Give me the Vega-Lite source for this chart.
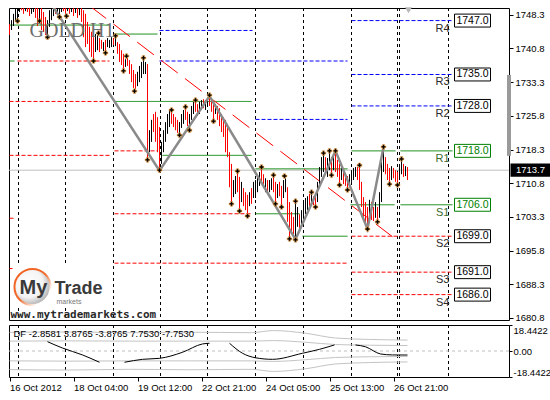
{
"$schema": "https://vega.github.io/schema/vega-lite/v6.json",
"background": "white",
"padding": {"left": 7, "top": 6, "right": 0, "bottom": 0},
"bounds": "flush",
"spacing": 5,
"config": {
  "view": {"stroke": "#000000", "strokeWidth": 1},
  "axis": {"labelFont": "Liberation Sans", "labelFontSize": 9.5, "labelColor": "#000000", "tickColor": "#000000", "domain": false, "grid": false, "labelOverlap": false, "labelBound": false},
  "text": {"font": "Liberation Sans"}
},
"datasets": {
  "grid": [{"i":4.5},{"i":28},{"i":52},{"i":75.5},{"i":99},{"i":123},{"i":147},{"i":171},{"i":194},{"i":195},{"i":219.5}],
  "levels": [
    {"x1":0,"x2":50,"p":1746.0,"k":"g"},
    {"x1":4,"x2":50,"p":1738.0,"k":"r"},
    {"x1":0,"x2":50,"p":1729.0,"k":"r"},
    {"x1":0,"x2":50,"p":1717.0,"k":"r"},
    {"x1":0,"x2":2.5,"p":1738.0,"k":"g"},
    {"x1":0,"x2":2.5,"p":1703.0,"k":"r"},
    {"x1":0,"x2":2.5,"p":1691.8,"k":"r"},
    {"x1":52.5,"x2":74,"p":1744.0,"k":"g"},
    {"x1":52.5,"x2":74,"p":1718.0,"k":"r"},
    {"x1":75,"x2":121.5,"p":1744.8,"k":"b"},
    {"x1":75,"x2":169,"p":1738.0,"k":"b"},
    {"x1":52.5,"x2":121,"p":1729.0,"k":"g"},
    {"x1":76.5,"x2":121,"p":1717.0,"k":"g"},
    {"x1":52.5,"x2":121,"p":1704.0,"k":"r"},
    {"x1":52.5,"x2":169,"p":1693.0,"k":"r"},
    {"x1":123,"x2":169,"p":1725.0,"k":"b"},
    {"x1":123,"x2":169,"p":1714.0,"k":"g"},
    {"x1":123,"x2":145,"p":1704.0,"k":"g"},
    {"x1":146.5,"x2":169,"p":1699.0,"k":"g"},
    {"x1":171,"x2":221.5,"p":1747.0,"k":"b"},
    {"x1":171,"x2":221.5,"p":1735.0,"k":"b"},
    {"x1":171,"x2":221.5,"p":1728.0,"k":"b"},
    {"x1":171,"x2":193,"p":1718.0,"k":"g"},
    {"x1":195.5,"x2":221.5,"p":1718.0,"k":"g"},
    {"x1":170.5,"x2":192.5,"p":1706.0,"k":"g"},
    {"x1":195.5,"x2":221.5,"p":1706.0,"k":"g"},
    {"x1":171,"x2":221.5,"p":1699.0,"k":"r"},
    {"x1":171,"x2":221.5,"p":1691.0,"k":"r"},
    {"x1":171,"x2":221.5,"p":1686.0,"k":"r"}
  ],
  "rs": [
    {"name":"R4","p":1747.0,"col":"k"},
    {"name":"R3","p":1735.0,"col":"k"},
    {"name":"R2","p":1728.0,"col":"k"},
    {"name":"R1","p":1718.0,"col":"g"},
    {"name":"S1","p":1706.0,"col":"g"},
    {"name":"S2","p":1699.0,"col":"k"},
    {"name":"S3","p":1691.0,"col":"k"},
    {"name":"S4","p":1686.0,"col":"k"}
  ],
  "trend": [{"i":40,"p":1750.3},{"i":195,"p":1697.7}],
  "zigzag": [{"i":20,"p":1751.3},{"i":75,"p":1713.6},{"i":100,"p":1730.2},{"i":143,"p":1698.3},{"i":163,"p":1718.0},{"i":179,"p":1700.6},{"i":187,"p":1718.8}],
  "fractals": [
    {"i":4,"p":1746.9},{"i":15,"p":1746.9},{"i":19,"p":1743.3},{"i":25,"p":1747.8},{"i":28.5,"p":1748.0},
    {"i":42,"p":1738.0},{"i":44.5,"p":1744.2},{"i":48,"p":1739.8},{"i":53,"p":1743.6},{"i":57,"p":1735.8},
    {"i":58.5,"p":1739.1},{"i":62.5,"p":1731.3},{"i":67,"p":1738.7},{"i":69,"p":1716.0},{"i":75,"p":1713.7},
    {"i":81,"p":1727.1},{"i":85,"p":1721.5},{"i":88,"p":1727.8},{"i":90,"p":1722.6},{"i":93,"p":1729.3},
    {"i":100,"p":1730.4},{"i":102,"p":1724.6},{"i":111,"p":1706.2},{"i":114,"p":1713.5},{"i":115,"p":1704.6},
    {"i":119,"p":1703.5},{"i":126,"p":1714.4},{"i":132,"p":1712.6},{"i":133,"p":1706.2},{"i":136,"p":1705.5},
    {"i":137.5,"p":1712.4},{"i":140,"p":1698.4},{"i":143,"p":1706.8},{"i":143,"p":1698.2},{"i":151,"p":1708.8},
    {"i":153,"p":1705.5},{"i":157,"p":1717.5},{"i":160,"p":1718.0},{"i":161,"p":1712.6},{"i":163,"p":1718.0},
    {"i":165,"p":1710.4},{"i":169,"p":1709.3},{"i":175,"p":1714.8},{"i":179,"p":1700.6},{"i":184,"p":1702.2},
    {"i":187,"p":1718.9},{"i":190,"p":1710.6},{"i":194,"p":1710.4},{"i":196,"p":1716.2}
  ],
  "bars": [
    {"i":0,"o":1746.2,"h":1746.2,"l":1743.8,"c":1743.8},
    {"i":1,"o":1744.9,"h":1747.1,"l":1744.9,"c":1747.1},
    {"i":2,"o":1745.8,"h":1748.5,"l":1745.8,"c":1748.5},
    {"i":3,"o":1746.9,"h":1750.7,"l":1746.9,"c":1750.7},
    {"i":4,"o":1747.3,"h":1750.7,"l":1747.3,"c":1750.7},
    {"i":5,"o":1748.9,"h":1751.1,"l":1748.9,"c":1751.1},
    {"i":6,"o":1751.1,"h":1751.1,"l":1749.3,"c":1749.3},
    {"i":7,"o":1751.1,"h":1751.1,"l":1748.5,"c":1748.5},
    {"i":8,"o":1749.1,"h":1751.1,"l":1749.1,"c":1751.1},
    {"i":9,"o":1751.1,"h":1751.1,"l":1748.9,"c":1748.9},
    {"i":10,"o":1751.1,"h":1751.1,"l":1748.0,"c":1748.0},
    {"i":11,"o":1748.5,"h":1751.1,"l":1748.5,"c":1751.1},
    {"i":12,"o":1748.9,"h":1751.1,"l":1748.9,"c":1751.1},
    {"i":13,"o":1751.1,"h":1751.1,"l":1747.6,"c":1747.6},
    {"i":14,"o":1751.1,"h":1751.1,"l":1745.8,"c":1745.8},
    {"i":15,"o":1747.3,"h":1750.7,"l":1747.3,"c":1750.7},
    {"i":16,"o":1750.2,"h":1750.2,"l":1744.9,"c":1744.9},
    {"i":17,"o":1748.9,"h":1748.9,"l":1744.5,"c":1744.5},
    {"i":18,"o":1747.8,"h":1747.8,"l":1743.8,"c":1743.8},
    {"i":19,"o":1743.8,"h":1747.1,"l":1743.8,"c":1747.1},
    {"i":20,"o":1745.6,"h":1749.3,"l":1745.6,"c":1749.3},
    {"i":21,"o":1747.1,"h":1750.7,"l":1747.1,"c":1750.7},
    {"i":22,"o":1748.0,"h":1751.1,"l":1748.0,"c":1751.1},
    {"i":23,"o":1751.1,"h":1751.1,"l":1748.5,"c":1748.5},
    {"i":24,"o":1748.2,"h":1751.1,"l":1748.2,"c":1751.1},
    {"i":25,"o":1748.2,"h":1750.7,"l":1748.2,"c":1750.7},
    {"i":26,"o":1748.9,"h":1751.1,"l":1748.9,"c":1751.1},
    {"i":27,"o":1751.1,"h":1751.1,"l":1749.1,"c":1749.1},
    {"i":28,"o":1751.1,"h":1751.1,"l":1748.5,"c":1748.5},
    {"i":29,"o":1749.1,"h":1751.1,"l":1749.1,"c":1751.1},
    {"i":30,"o":1751.1,"h":1751.1,"l":1748.5,"c":1748.5},
    {"i":31,"o":1748.9,"h":1751.1,"l":1748.9,"c":1751.1},
    {"i":32,"o":1751.1,"h":1751.1,"l":1748.0,"c":1748.0},
    {"i":33,"o":1748.7,"h":1751.1,"l":1748.7,"c":1751.1},
    {"i":34,"o":1750.7,"h":1750.7,"l":1747.6,"c":1747.6},
    {"i":35,"o":1748.2,"h":1750.2,"l":1748.2,"c":1750.2},
    {"i":36,"o":1749.8,"h":1749.8,"l":1746.7,"c":1746.7},
    {"i":37,"o":1749.3,"h":1749.3,"l":1743.3,"c":1743.3},
    {"i":38,"o":1748.5,"h":1748.5,"l":1741.1,"c":1741.1},
    {"i":39,"o":1746.7,"h":1746.7,"l":1741.8,"c":1741.8},
    {"i":40,"o":1745.6,"h":1745.6,"l":1740.0,"c":1740.0},
    {"i":41,"o":1744.5,"h":1744.5,"l":1738.9,"c":1738.9},
    {"i":42,"o":1743.3,"h":1743.3,"l":1738.4,"c":1738.4},
    {"i":43,"o":1740.0,"h":1744.0,"l":1740.0,"c":1744.0},
    {"i":44,"o":1740.4,"h":1743.8,"l":1740.4,"c":1743.8},
    {"i":45,"o":1743.1,"h":1743.1,"l":1740.0,"c":1740.0},
    {"i":46,"o":1742.7,"h":1742.7,"l":1740.7,"c":1740.7},
    {"i":47,"o":1740.2,"h":1742.2,"l":1740.2,"c":1742.2},
    {"i":48,"o":1742.7,"h":1742.7,"l":1740.2,"c":1740.2},
    {"i":49,"o":1741.1,"h":1743.1,"l":1741.1,"c":1743.1},
    {"i":50,"o":1740.9,"h":1742.7,"l":1740.9,"c":1742.7},
    {"i":51,"o":1741.1,"h":1743.3,"l":1741.1,"c":1743.3},
    {"i":52,"o":1743.1,"h":1743.1,"l":1741.6,"c":1741.6},
    {"i":53,"o":1741.3,"h":1743.1,"l":1741.3,"c":1743.1},
    {"i":54,"o":1742.2,"h":1742.2,"l":1739.6,"c":1739.6},
    {"i":55,"o":1741.8,"h":1741.8,"l":1737.8,"c":1737.8},
    {"i":56,"o":1740.4,"h":1740.4,"l":1737.1,"c":1737.1},
    {"i":57,"o":1739.6,"h":1739.6,"l":1736.2,"c":1736.2},
    {"i":58,"o":1736.7,"h":1738.4,"l":1736.7,"c":1738.4},
    {"i":59,"o":1738.7,"h":1738.7,"l":1736.9,"c":1736.9},
    {"i":60,"o":1738.2,"h":1738.2,"l":1735.1,"c":1735.1},
    {"i":61,"o":1737.3,"h":1737.3,"l":1733.3,"c":1733.3},
    {"i":62,"o":1736.0,"h":1736.0,"l":1732.0,"c":1732.0},
    {"i":63,"o":1735.1,"h":1735.1,"l":1731.8,"c":1731.8},
    {"i":64,"o":1732.4,"h":1735.6,"l":1732.4,"c":1735.6},
    {"i":65,"o":1733.3,"h":1736.9,"l":1733.3,"c":1736.9},
    {"i":66,"o":1734.2,"h":1737.8,"l":1734.2,"c":1737.8},
    {"i":67,"o":1735.1,"h":1738.2,"l":1735.1,"c":1738.2},
    {"i":68,"o":1735.1,"h":1737.8,"l":1735.1,"c":1737.8},
    {"i":69,"o":1737.3,"h":1737.3,"l":1716.4,"c":1716.4},
    {"i":70,"o":1717.7,"h":1722.6,"l":1717.7,"c":1722.6},
    {"i":71,"o":1720.0,"h":1724.9,"l":1720.0,"c":1724.9},
    {"i":72,"o":1726.2,"h":1726.2,"l":1722.2,"c":1722.2},
    {"i":73,"o":1726.7,"h":1726.7,"l":1720.0,"c":1720.0},
    {"i":74,"o":1725.5,"h":1725.5,"l":1717.7,"c":1717.7},
    {"i":75,"o":1723.3,"h":1723.3,"l":1714.2,"c":1714.2},
    {"i":76,"o":1715.1,"h":1720.0,"l":1715.1,"c":1720.0},
    {"i":77,"o":1717.7,"h":1722.6,"l":1717.7,"c":1722.6},
    {"i":78,"o":1720.0,"h":1724.4,"l":1720.0,"c":1724.4},
    {"i":79,"o":1721.8,"h":1726.2,"l":1721.8,"c":1726.2},
    {"i":80,"o":1723.3,"h":1727.1,"l":1723.3,"c":1727.1},
    {"i":81,"o":1726.7,"h":1726.7,"l":1724.0,"c":1724.0},
    {"i":82,"o":1726.2,"h":1726.2,"l":1723.3,"c":1723.3},
    {"i":83,"o":1725.5,"h":1725.5,"l":1722.6,"c":1722.6},
    {"i":84,"o":1724.9,"h":1724.9,"l":1722.0,"c":1722.0},
    {"i":85,"o":1722.0,"h":1724.4,"l":1722.0,"c":1724.4},
    {"i":86,"o":1723.1,"h":1726.2,"l":1723.1,"c":1726.2},
    {"i":87,"o":1724.0,"h":1727.1,"l":1724.0,"c":1727.1},
    {"i":88,"o":1727.3,"h":1727.3,"l":1724.9,"c":1724.9},
    {"i":89,"o":1726.7,"h":1726.7,"l":1723.5,"c":1723.5},
    {"i":90,"o":1723.1,"h":1726.2,"l":1723.1,"c":1726.2},
    {"i":91,"o":1724.9,"h":1728.0,"l":1724.9,"c":1728.0},
    {"i":92,"o":1726.2,"h":1728.9,"l":1726.2,"c":1728.9},
    {"i":93,"o":1728.9,"h":1728.9,"l":1726.7,"c":1726.7},
    {"i":94,"o":1728.4,"h":1728.4,"l":1725.8,"c":1725.8},
    {"i":95,"o":1726.2,"h":1728.9,"l":1726.2,"c":1728.9},
    {"i":96,"o":1727.1,"h":1729.3,"l":1727.1,"c":1729.3},
    {"i":97,"o":1729.5,"h":1729.5,"l":1727.5,"c":1727.5},
    {"i":98,"o":1727.1,"h":1729.3,"l":1727.1,"c":1729.3},
    {"i":99,"o":1728.0,"h":1729.8,"l":1728.0,"c":1729.8},
    {"i":100,"o":1730.0,"h":1730.0,"l":1728.0,"c":1728.0},
    {"i":101,"o":1729.5,"h":1729.5,"l":1726.7,"c":1726.7},
    {"i":102,"o":1728.9,"h":1728.9,"l":1725.1,"c":1725.1},
    {"i":103,"o":1726.2,"h":1728.4,"l":1726.2,"c":1728.4},
    {"i":104,"o":1728.0,"h":1728.0,"l":1724.9,"c":1724.9},
    {"i":105,"o":1727.5,"h":1727.5,"l":1723.5,"c":1723.5},
    {"i":106,"o":1726.2,"h":1726.2,"l":1722.2,"c":1722.2},
    {"i":107,"o":1725.5,"h":1725.5,"l":1721.1,"c":1721.1},
    {"i":108,"o":1724.9,"h":1724.9,"l":1717.7,"c":1717.7},
    {"i":109,"o":1724.0,"h":1724.0,"l":1716.6,"c":1716.6},
    {"i":110,"o":1717.7,"h":1717.7,"l":1709.9,"c":1709.9},
    {"i":111,"o":1715.1,"h":1715.1,"l":1706.6,"c":1706.6},
    {"i":112,"o":1707.7,"h":1711.5,"l":1707.7,"c":1711.5},
    {"i":113,"o":1708.4,"h":1712.4,"l":1708.4,"c":1712.4},
    {"i":114,"o":1713.1,"h":1713.1,"l":1708.8,"c":1708.8},
    {"i":115,"o":1712.2,"h":1712.2,"l":1705.1,"c":1705.1},
    {"i":116,"o":1706.6,"h":1711.1,"l":1706.6,"c":1711.1},
    {"i":117,"o":1709.7,"h":1709.7,"l":1705.7,"c":1705.7},
    {"i":118,"o":1708.8,"h":1708.8,"l":1704.8,"c":1704.8},
    {"i":119,"o":1708.2,"h":1708.2,"l":1703.9,"c":1703.9},
    {"i":120,"o":1705.7,"h":1708.8,"l":1705.7,"c":1708.8},
    {"i":121,"o":1709.7,"h":1709.7,"l":1706.2,"c":1706.2},
    {"i":122,"o":1707.5,"h":1711.1,"l":1707.5,"c":1711.1},
    {"i":123,"o":1707.5,"h":1711.5,"l":1707.5,"c":1711.5},
    {"i":124,"o":1708.8,"h":1712.4,"l":1708.8,"c":1712.4},
    {"i":125,"o":1710.2,"h":1713.3,"l":1710.2,"c":1713.3},
    {"i":126,"o":1714.0,"h":1714.0,"l":1711.1,"c":1711.1},
    {"i":127,"o":1712.8,"h":1712.8,"l":1709.7,"c":1709.7},
    {"i":128,"o":1708.8,"h":1711.9,"l":1708.8,"c":1711.9},
    {"i":129,"o":1711.5,"h":1711.5,"l":1708.4,"c":1708.4},
    {"i":130,"o":1708.8,"h":1711.5,"l":1708.8,"c":1711.5},
    {"i":131,"o":1709.3,"h":1711.9,"l":1709.3,"c":1711.9},
    {"i":132,"o":1712.2,"h":1712.2,"l":1708.8,"c":1708.8},
    {"i":133,"o":1711.1,"h":1711.1,"l":1706.6,"c":1706.6},
    {"i":134,"o":1707.5,"h":1710.6,"l":1707.5,"c":1710.6},
    {"i":135,"o":1711.1,"h":1711.1,"l":1707.9,"c":1707.9},
    {"i":136,"o":1710.2,"h":1710.2,"l":1705.9,"c":1705.9},
    {"i":137,"o":1707.5,"h":1711.5,"l":1707.5,"c":1711.5},
    {"i":138,"o":1708.8,"h":1711.9,"l":1708.8,"c":1711.9},
    {"i":139,"o":1709.9,"h":1709.9,"l":1702.2,"c":1702.2},
    {"i":140,"o":1706.6,"h":1706.6,"l":1698.8,"c":1698.8},
    {"i":141,"o":1704.4,"h":1704.4,"l":1699.9,"c":1699.9},
    {"i":142,"o":1703.3,"h":1703.3,"l":1699.3,"c":1699.3},
    {"i":143,"o":1698.6,"h":1706.4,"l":1698.6,"c":1706.4},
    {"i":144,"o":1701.1,"h":1705.5,"l":1701.1,"c":1705.5},
    {"i":145,"o":1703.9,"h":1703.9,"l":1700.8,"c":1700.8},
    {"i":146,"o":1701.7,"h":1704.8,"l":1701.7,"c":1704.8},
    {"i":147,"o":1702.6,"h":1706.6,"l":1702.6,"c":1706.6},
    {"i":148,"o":1703.9,"h":1707.5,"l":1703.9,"c":1707.5},
    {"i":149,"o":1704.8,"h":1707.9,"l":1704.8,"c":1707.9},
    {"i":150,"o":1708.4,"h":1708.4,"l":1705.5,"c":1705.5},
    {"i":151,"o":1706.2,"h":1708.6,"l":1706.2,"c":1708.6},
    {"i":152,"o":1707.9,"h":1707.9,"l":1705.9,"c":1705.9},
    {"i":153,"o":1707.9,"h":1707.9,"l":1705.9,"c":1705.9},
    {"i":154,"o":1706.6,"h":1711.1,"l":1706.6,"c":1711.1},
    {"i":155,"o":1709.9,"h":1714.4,"l":1709.9,"c":1714.4},
    {"i":156,"o":1712.2,"h":1716.6,"l":1712.2,"c":1716.6},
    {"i":157,"o":1713.3,"h":1717.1,"l":1713.3,"c":1717.1},
    {"i":158,"o":1716.6,"h":1716.6,"l":1712.8,"c":1712.8},
    {"i":159,"o":1712.2,"h":1716.4,"l":1712.2,"c":1716.4},
    {"i":160,"o":1713.7,"h":1717.5,"l":1713.7,"c":1717.5},
    {"i":161,"o":1716.6,"h":1716.6,"l":1713.1,"c":1713.1},
    {"i":162,"o":1713.7,"h":1716.9,"l":1713.7,"c":1716.9},
    {"i":163,"o":1717.5,"h":1717.5,"l":1713.3,"c":1713.3},
    {"i":164,"o":1716.0,"h":1716.0,"l":1712.2,"c":1712.2},
    {"i":165,"o":1715.1,"h":1715.1,"l":1710.8,"c":1710.8},
    {"i":166,"o":1711.5,"h":1714.4,"l":1711.5,"c":1714.4},
    {"i":167,"o":1713.7,"h":1713.7,"l":1710.6,"c":1710.6},
    {"i":168,"o":1712.8,"h":1712.8,"l":1710.2,"c":1710.2},
    {"i":169,"o":1712.4,"h":1712.4,"l":1709.7,"c":1709.7},
    {"i":170,"o":1710.2,"h":1712.8,"l":1710.2,"c":1712.8},
    {"i":171,"o":1711.1,"h":1713.7,"l":1711.1,"c":1713.7},
    {"i":172,"o":1711.5,"h":1714.2,"l":1711.5,"c":1714.2},
    {"i":173,"o":1712.2,"h":1714.4,"l":1712.2,"c":1714.4},
    {"i":174,"o":1714.4,"h":1714.4,"l":1711.5,"c":1711.5},
    {"i":175,"o":1714.4,"h":1714.4,"l":1709.3,"c":1709.3},
    {"i":176,"o":1711.1,"h":1711.1,"l":1705.5,"c":1705.5},
    {"i":177,"o":1707.7,"h":1707.7,"l":1703.3,"c":1703.3},
    {"i":178,"o":1706.6,"h":1706.6,"l":1701.7,"c":1701.7},
    {"i":179,"o":1705.5,"h":1705.5,"l":1701.1,"c":1701.1},
    {"i":180,"o":1703.3,"h":1707.1,"l":1703.3,"c":1707.1},
    {"i":181,"o":1706.6,"h":1706.6,"l":1702.6,"c":1702.6},
    {"i":182,"o":1705.5,"h":1705.5,"l":1702.4,"c":1702.4},
    {"i":183,"o":1703.1,"h":1706.6,"l":1703.1,"c":1706.6},
    {"i":184,"o":1705.5,"h":1705.5,"l":1702.6,"c":1702.6},
    {"i":185,"o":1703.1,"h":1708.8,"l":1703.1,"c":1708.8},
    {"i":186,"o":1706.6,"h":1715.5,"l":1706.6,"c":1715.5},
    {"i":187,"o":1713.3,"h":1718.4,"l":1713.3,"c":1718.4},
    {"i":188,"o":1716.6,"h":1716.6,"l":1712.8,"c":1712.8},
    {"i":189,"o":1715.1,"h":1715.1,"l":1711.5,"c":1711.5},
    {"i":190,"o":1714.2,"h":1714.2,"l":1711.1,"c":1711.1},
    {"i":191,"o":1711.5,"h":1714.6,"l":1711.5,"c":1714.6},
    {"i":192,"o":1714.2,"h":1714.2,"l":1711.9,"c":1711.9},
    {"i":193,"o":1713.7,"h":1713.7,"l":1711.1,"c":1711.1},
    {"i":194,"o":1713.3,"h":1713.3,"l":1710.8,"c":1710.8},
    {"i":195,"o":1711.5,"h":1714.4,"l":1711.5,"c":1714.4},
    {"i":196,"o":1712.8,"h":1715.7,"l":1712.8,"c":1715.7},
    {"i":197,"o":1715.1,"h":1715.1,"l":1712.2,"c":1712.2},
    {"i":198,"o":1712.4,"h":1714.6,"l":1712.4,"c":1714.6},
    {"i":199,"o":1714.4,"h":1714.4,"l":1711.5,"c":1713.7}
  ],
  "df": [
    {"i":19,"v":6.6,"s":1},{"i":26.5,"v":2.1,"s":1},{"i":36.5,"v":-2.8,"s":1},{"i":45,"v":-8.0,"s":1},
    {"i":57.5,"v":-8.0,"s":2},{"i":66.5,"v":-5.9,"s":2},{"i":75,"v":-5.2,"s":2},{"i":86.5,"v":-0.9,"s":2},{"i":96.5,"v":5.0,"s":2},{"i":100,"v":5.5,"s":2},
    {"i":110,"v":5.5,"s":3},{"i":116.5,"v":-1.6,"s":3},{"i":123,"v":-4.8,"s":3},{"i":131.5,"v":-5.9,"s":3},{"i":146.5,"v":-1.6,"s":3},{"i":155,"v":1.2,"s":3},{"i":162.5,"v":4.3,"s":3},
    {"i":173,"v":4.3,"s":4},{"i":178,"v":3.0,"s":4},{"i":185.5,"v":-2.1,"s":4},{"i":191.5,"v":-2.8,"s":4},{"i":199,"v":-2.8581,"s":4}
  ],
  "bands": [
    {"i":0,"b":"u2","v":13.2},{"i":0,"b":"u1","v":7.0},{"i":0,"b":"d1","v":-7.0},{"i":0,"b":"d2","v":-13.2},
    {"i":30,"b":"u2","v":13.5},{"i":30,"b":"u1","v":7.2},{"i":30,"b":"d1","v":-7.2},{"i":30,"b":"d2","v":-13.5},
    {"i":60,"b":"u2","v":13.0},{"i":60,"b":"u1","v":7.0},{"i":60,"b":"d1","v":-7.0},{"i":60,"b":"d2","v":-13.0},
    {"i":90,"b":"u2","v":13.3},{"i":90,"b":"u1","v":7.0},{"i":90,"b":"d1","v":-7.0},{"i":90,"b":"d2","v":-13.3},
    {"i":121,"b":"u2","v":13.0},{"i":121,"b":"u1","v":7.0},{"i":121,"b":"d1","v":-7.0},{"i":121,"b":"d2","v":-13.0},
    {"i":132,"b":"u2","v":14.5},{"i":132,"b":"u1","v":7.4},{"i":132,"b":"d1","v":-7.4},{"i":132,"b":"d2","v":-14.5},
    {"i":148,"b":"u2","v":12.6},{"i":148,"b":"u1","v":6.2},{"i":148,"b":"d1","v":-6.2},{"i":148,"b":"d2","v":-12.6},
    {"i":163,"b":"u2","v":9.2},{"i":163,"b":"u1","v":4.6},{"i":163,"b":"d1","v":-4.6},{"i":163,"b":"d2","v":-9.2},
    {"i":180,"b":"u2","v":8.2},{"i":180,"b":"u1","v":4.1},{"i":180,"b":"d1","v":-4.1},{"i":180,"b":"d2","v":-8.2},
    {"i":199,"b":"u2","v":7.753},{"i":199,"b":"u1","v":3.8765},{"i":199,"b":"d1","v":-3.8765},{"i":199,"b":"d2","v":-7.753}
  ]
},
"vconcat": [
  {
    "width": 500,
    "height": 312,
    "resolve": {"scale": {"color": "independent", "stroke": "independent", "strokeDash": "independent"}},
    "layer": [
      {"data": {"name": "grid"}, "mark": {"type": "rule", "color": "#000000", "strokeDash": [3, 3], "strokeWidth": 1},
       "encoding": {"x": {"field": "i", "type": "quantitative", "scale": {"domain": [-0.25, 249.75], "nice": false, "zero": false}, "axis": null}}},
      {"data": {"values": [{"p": 1713.7}]}, "mark": {"type": "rule", "color": "#c0c0c0", "strokeWidth": 1},
       "encoding": {"y": {"field": "p", "type": "quantitative", "scale": {"domain": [1680.35, 1749.8], "nice": false, "zero": false}, "title": null,
               "axis": {"orient": "right", "values": [1680.8, 1688.3, 1695.8, 1703.3, 1710.8, 1718.3, 1725.8, 1733.3, 1740.8, 1748.3], "tickCount": 40, "format": ".1f", "tickSize": 4, "labelPadding": 2, "labelOverlap": false, "labelFlush": false, "labelSeparation": 0, "title": null}}}},
      {"data": {"name": "levels"}, "mark": {"type": "rule", "strokeWidth": 1},
       "encoding": {
         "x": {"field": "x1", "type": "quantitative", "scale": {"domain": [-0.25, 249.75], "nice": false, "zero": false}, "axis": null},
         "x2": {"field": "x2"},
         "y": {"field": "p", "type": "quantitative", "scale": {"domain": [1680.35, 1749.8], "nice": false, "zero": false}, "title": null},
         "color": {"field": "k", "type": "nominal", "scale": {"domain": ["g", "r", "b"], "range": ["#008000", "#ff0000", "#0000ff"]}, "legend": null},
         "strokeDash": {"field": "k", "type": "nominal", "scale": {"domain": ["g", "r", "b"], "range": [[1, 0], [4, 2], [4, 2]]}, "legend": null}}},
      {"data": {"values": [{}]}, "mark": {"type": "rect", "fill": "#ffffff"},
       "encoding": {
         "x": {"datum": 1.5, "type": "quantitative", "scale": {"domain": [-0.25, 249.75], "nice": false, "zero": false}, "axis": null},
         "x2": {"datum": 47.5},
         "y": {"datum": 1692.4, "type": "quantitative", "scale": {"domain": [1680.35, 1749.8], "nice": false, "zero": false}, "title": null},
         "y2": {"datum": 1683.5}}},
      {"data": {"name": "trend"}, "mark": {"type": "line", "color": "#ff0000", "strokeWidth": 1, "strokeDash": [21, 9], "clip": true},
       "encoding": {
         "x": {"field": "i", "type": "quantitative", "scale": {"domain": [-0.25, 249.75], "nice": false, "zero": false}, "axis": null},
         "y": {"field": "p", "type": "quantitative", "scale": {"domain": [1680.35, 1749.8], "nice": false, "zero": false}, "title": null}}},
      {"data": {"name": "bars"}, "mark": {"type": "rule", "strokeWidth": 1, "clip": true},
       "encoding": {
         "x": {"field": "i", "type": "quantitative", "scale": {"domain": [-0.25, 249.75], "nice": false, "zero": false}, "axis": null},
         "y": {"field": "l", "type": "quantitative", "scale": {"domain": [1680.35, 1749.8], "nice": false, "zero": false}, "title": null},
         "y2": {"field": "h"},
         "color": {"condition": {"test": "datum.c < datum.o", "value": "#ff0000"}, "value": "#000000"}}},
      {"data": {"name": "zigzag"}, "mark": {"type": "line", "color": "#8a8a8a", "strokeWidth": 2.5, "clip": true},
       "encoding": {
         "x": {"field": "i", "type": "quantitative", "scale": {"domain": [-0.25, 249.75], "nice": false, "zero": false}, "axis": null},
         "y": {"field": "p", "type": "quantitative", "scale": {"domain": [1680.35, 1749.8], "nice": false, "zero": false}, "title": null}}},
      {"data": {"name": "fractals"}, "mark": {"type": "point", "shape": "cross", "size": 22, "filled": true, "fill": "#000000", "stroke": "#f0a040", "strokeWidth": 0.6, "opacity": 1},
       "encoding": {
         "x": {"field": "i", "type": "quantitative", "scale": {"domain": [-0.25, 249.75], "nice": false, "zero": false}, "axis": null},
         "y": {"field": "p", "type": "quantitative", "scale": {"domain": [1680.35, 1749.8], "nice": false, "zero": false}, "title": null}}},
      {"data": {"values": [{}]}, "mark": {"type": "point", "shape": "circle", "size": 1300, "opacity": 1, "strokeWidth": 2,
         "fill": {"gradient": "radial", "x1": 0.4, "y1": 0.4, "r1": 0, "x2": 0.4, "y2": 0.4, "r2": 0.65, "stops": [{"offset": 0, "color": "#ffffff"}, {"offset": 0.6, "color": "#f4f4f4"}, {"offset": 1, "color": "#a8a8a8"}]},
         "stroke": {"gradient": "linear", "x1": 0, "y1": 0, "x2": 1, "y2": 1, "stops": [{"offset": 0, "color": "#f06020"}, {"offset": 0.5, "color": "#f26a2a"}, {"offset": 0.8, "color": "#ffffff"}]}},
       "encoding": {
         "x": {"datum": 11.5, "type": "quantitative", "scale": {"domain": [-0.25, 249.75], "nice": false, "zero": false}, "axis": null},
         "y": {"datum": 1687.7, "type": "quantitative", "scale": {"domain": [1680.35, 1749.8], "nice": false, "zero": false}, "title": null}}},
      {"data": {"values": [{"t": "My"}]}, "mark": {"type": "text", "align": "left", "baseline": "alphabetic", "fontSize": 20, "fontWeight": "bold", "color": "#3a3a3a", "font": "Liberation Sans"},
       "encoding": {
         "x": {"datum": 5, "type": "quantitative", "scale": {"domain": [-0.25, 249.75], "nice": false, "zero": false}, "axis": null},
         "y": {"datum": 1686.1, "type": "quantitative", "scale": {"domain": [1680.35, 1749.8], "nice": false, "zero": false}, "title": null},
         "text": {"field": "t"}}},
      {"data": {"values": [{"t": "Trade"}]}, "mark": {"type": "text", "align": "left", "baseline": "alphabetic", "fontSize": 18, "fontWeight": "bold", "color": "#3a3a3a", "font": "Liberation Sans"},
       "encoding": {
         "x": {"datum": 22.5, "type": "quantitative", "scale": {"domain": [-0.25, 249.75], "nice": false, "zero": false}, "axis": null},
         "y": {"datum": 1686.1, "type": "quantitative", "scale": {"domain": [1680.35, 1749.8], "nice": false, "zero": false}, "title": null},
         "text": {"field": "t"}}},
      {"data": {"values": [{"t": "markets"}]}, "mark": {"type": "text", "align": "left", "baseline": "alphabetic", "fontSize": 7, "color": "#777777", "font": "Liberation Sans"},
       "encoding": {
         "x": {"datum": 23.5, "type": "quantitative", "scale": {"domain": [-0.25, 249.75], "nice": false, "zero": false}, "axis": null},
         "y": {"datum": 1683.9, "type": "quantitative", "scale": {"domain": [1680.35, 1749.8], "nice": false, "zero": false}, "title": null},
         "text": {"field": "t"}}},
      {"data": {"values": [{"t": "www.mytrademarkets.com"}]}, "mark": {"type": "text", "align": "left", "baseline": "alphabetic", "fontSize": 11, "fontWeight": "bold", "color": "#2a2a2a", "font": "DejaVu Sans Mono"},
       "encoding": {
         "x": {"datum": 0.5, "type": "quantitative", "scale": {"domain": [-0.25, 249.75], "nice": false, "zero": false}, "axis": null},
         "y": {"datum": 1680.9, "type": "quantitative", "scale": {"domain": [1680.35, 1749.8], "nice": false, "zero": false}, "title": null},
         "text": {"field": "t"}}},
      {"data": {"values": [{"t": "GOLD H1"}]}, "mark": {"type": "text", "align": "left", "baseline": "alphabetic", "fontSize": 20, "color": "#6e6e6e", "font": "Liberation Serif"},
       "encoding": {
         "x": {"datum": 10, "type": "quantitative", "scale": {"domain": [-0.25, 249.75], "nice": false, "zero": false}, "axis": null},
         "y": {"datum": 1743.3, "type": "quantitative", "scale": {"domain": [1680.35, 1749.8], "nice": false, "zero": false}, "title": null},
         "text": {"field": "t"}}},
      {"data": {"name": "rs"}, "mark": {"type": "text", "align": "right", "baseline": "top", "dy": 2, "fontSize": 11, "font": "Liberation Sans"},
       "encoding": {
         "x": {"datum": 220, "type": "quantitative", "scale": {"domain": [-0.25, 249.75], "nice": false, "zero": false}, "axis": null},
         "y": {"field": "p", "type": "quantitative", "scale": {"domain": [1680.35, 1749.8], "nice": false, "zero": false}, "title": null},
         "text": {"field": "name"},
         "color": {"field": "col", "type": "nominal", "scale": {"domain": ["k", "g"], "range": ["#2a2a2a", "#3b6b2b"]}, "legend": null}}},
      {"data": {"name": "rs"}, "mark": {"type": "point", "shape": "M-1,-0.36H1V0.36H-1Z", "size": 1296, "filled": true, "fill": "#ffffff", "strokeWidth": 1, "opacity": 1},
       "encoding": {
         "x": {"datum": 231.5, "type": "quantitative", "scale": {"domain": [-0.25, 249.75], "nice": false, "zero": false}, "axis": null},
         "y": {"field": "p", "type": "quantitative", "scale": {"domain": [1680.35, 1749.8], "nice": false, "zero": false}, "title": null},
         "stroke": {"field": "col", "type": "nominal", "scale": {"domain": ["k", "g"], "range": ["#000000", "#008000"]}, "legend": null}}},
      {"data": {"name": "rs"}, "mark": {"type": "text", "align": "center", "baseline": "middle", "fontSize": 10.5, "font": "Liberation Sans"},
       "encoding": {
         "x": {"datum": 231.5, "type": "quantitative", "scale": {"domain": [-0.25, 249.75], "nice": false, "zero": false}, "axis": null},
         "y": {"field": "p", "type": "quantitative", "scale": {"domain": [1680.35, 1749.8], "nice": false, "zero": false}, "title": null},
         "text": {"field": "p", "format": ".1f"},
         "color": {"field": "col", "type": "nominal", "scale": {"domain": ["k", "g"], "range": ["#000000", "#008000"]}, "legend": null}}},
      {"data": {"values": [{}]}, "mark": {"type": "rule", "color": "#9a9a9a", "strokeWidth": 4},
       "encoding": {
         "x": {"datum": 249.75, "type": "quantitative", "scale": {"domain": [-0.25, 249.75], "nice": false, "zero": false}, "axis": null},
         "y": {"datum": 1734.9, "type": "quantitative", "scale": {"domain": [1680.35, 1749.8], "nice": false, "zero": false}, "title": null},
         "y2": {"datum": 1716.9}}},
      {"data": {"values": [{}]}, "mark": {"type": "point", "shape": "triangle-down", "size": 50, "filled": true, "color": "#b8b8b8", "opacity": 1},
       "encoding": {
         "x": {"datum": 199.5, "type": "quantitative", "scale": {"domain": [-0.25, 249.75], "nice": false, "zero": false}, "axis": null},
         "y": {"datum": 1749.3, "type": "quantitative", "scale": {"domain": [1680.35, 1749.8], "nice": false, "zero": false}, "title": null}}},
      {"data": {"values": [{"p": 1713.7}]}, "mark": {"type": "point", "shape": "M-1,-0.33H1V0.33H-1Z", "size": 1600, "filled": true, "color": "#000000", "opacity": 1},
       "encoding": {
         "x": {"datum": 260.5, "type": "quantitative", "scale": {"domain": [-0.25, 249.75], "nice": false, "zero": false}, "axis": null},
         "y": {"field": "p", "type": "quantitative", "scale": {"domain": [1680.35, 1749.8], "nice": false, "zero": false}, "title": null}}},
      {"data": {"values": [{"p": 1713.7}]}, "mark": {"type": "text", "align": "center", "baseline": "middle", "fontSize": 9.5, "color": "#ffffff", "font": "Liberation Sans"},
       "encoding": {
         "x": {"datum": 260.5, "type": "quantitative", "scale": {"domain": [-0.25, 249.75], "nice": false, "zero": false}, "axis": null},
         "y": {"field": "p", "type": "quantitative", "scale": {"domain": [1680.35, 1749.8], "nice": false, "zero": false}, "title": null},
         "text": {"field": "p", "format": ".1f"}}}
    ]
  },
  {
    "width": 500,
    "height": 52,
    "layer": [
      {"data": {"name": "grid"}, "mark": {"type": "rule", "color": "#000000", "strokeDash": [3, 3], "strokeWidth": 1},
       "encoding": {"x": {"field": "i", "type": "quantitative", "scale": {"domain": [-0.25, 249.75], "nice": false, "zero": false}, "title": null,
         "axis": {"orient": "bottom", "values": [0, 32, 64, 96, 128, 160, 192], "tickCount": 40, "labelExpr": "['16 Oct 2012','18 Oct 04:00','19 Oct 12:00','22 Oct 21:00','24 Oct 05:00','25 Oct 13:00','26 Oct 21:00'][round(datum.value/32)]", "labelAlign": "left", "labelPadding": 1, "tickSize": 4, "labelFlush": false, "labelOverlap": false, "title": null}}}},
      {"data": {"values": [{"v": 0}]}, "mark": {"type": "rule", "color": "#c0c0c0", "strokeDash": [3, 3], "strokeWidth": 1},
       "encoding": {"y": {"field": "v", "type": "quantitative", "scale": {"domain": [-18.4422, 18.4422], "nice": false, "zero": false}, "title": null,
         "axis": {"orient": "right", "values": [18.4422, 0, -18.4422], "tickCount": 40, "labelExpr": "datum.value == 0 ? '0.00' : (datum.value < 0 ? '-' : '') + format(abs(datum.value), '.4f')", "labelFlush": true, "labelOverlap": false, "labelSeparation": 0, "tickSize": 3, "labelPadding": 1, "title": null}}}},
      {"data": {"name": "bands"}, "mark": {"type": "line", "color": "#c4c4c4", "strokeWidth": 1, "interpolate": "monotone"},
       "encoding": {
         "x": {"field": "i", "type": "quantitative", "scale": {"domain": [-0.25, 249.75], "nice": false, "zero": false}, "title": null},
         "y": {"field": "v", "type": "quantitative", "scale": {"domain": [-18.4422, 18.4422], "nice": false, "zero": false}, "title": null},
         "detail": {"field": "b", "type": "nominal"}}},
      {"data": {"name": "df"}, "mark": {"type": "line", "color": "#000000", "strokeWidth": 1, "interpolate": "monotone"},
       "encoding": {
         "x": {"field": "i", "type": "quantitative", "scale": {"domain": [-0.25, 249.75], "nice": false, "zero": false}, "title": null},
         "y": {"field": "v", "type": "quantitative", "scale": {"domain": [-18.4422, 18.4422], "nice": false, "zero": false}, "title": null},
         "detail": {"field": "s", "type": "nominal"}}},
      {"data": {"values": [{"t": "DF -2.8581 3.8765 -3.8765 7.7530 -7.7530"}]}, "mark": {"type": "text", "align": "left", "baseline": "middle", "fontSize": 9.5, "color": "#000000", "font": "Liberation Sans"},
       "encoding": {
         "x": {"datum": 2, "type": "quantitative", "scale": {"domain": [-0.25, 249.75], "nice": false, "zero": false}, "title": null},
         "y": {"datum": 12, "type": "quantitative", "scale": {"domain": [-18.4422, 18.4422], "nice": false, "zero": false}, "title": null},
         "text": {"field": "t"}}}
    ]
  }
]
}
